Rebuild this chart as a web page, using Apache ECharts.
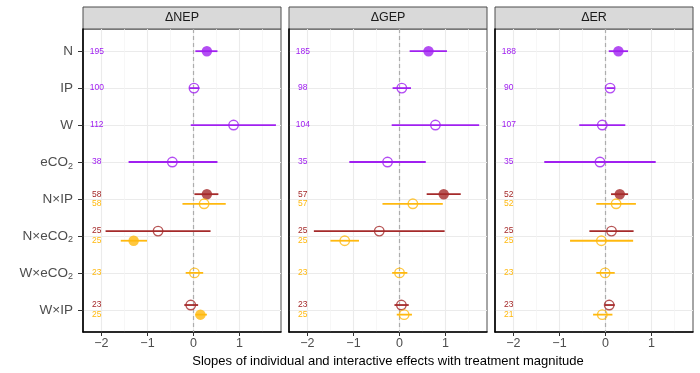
<!DOCTYPE html>
<html><head><meta charset="utf-8">
<script src="https://cdn.jsdelivr.net/npm/echarts@6/dist/echarts.min.js"></script>
<style>html,body{margin:0;padding:0;background:#fff}#c{width:700px;height:373px}</style>
</head><body><div id="c"></div>
<script>
const categories = ['N','IP','W','eCO2','N×IP','N×eCO2','W×eCO2','W×IP'];
const panelTitles = ['ΔNEP','ΔGEP','ΔER'];
const xTicks = [-2,-1,0,1];
const xMinorTicks = [-1.5,-0.5,0.5,1.5];
const xTitle = 'Slopes of individual and interactive effects with treatment magnitude';
const purpleCats = ['N','IP','W','eCO2'];
const redCats = ['N×IP','N×eCO2','W×IP'];
const orangeCats = ['N×IP','N×eCO2','W×eCO2','W×IP'];

// ΔNEP
const nepPurpleMean = [0.29,0.01,0.87,-0.46];
const nepPurpleLo = [0.04,-0.09,-0.06,-1.41];
const nepPurpleHi = [0.52,0.13,1.79,0.52];
const nepPurpleN = [195,100,112,38];
const nepPurpleFilled = [1,0,0,0];
const nepRedMean = [0.29,-0.77,-0.06];
const nepRedLo = [0.02,-1.91,-0.20];
const nepRedHi = [0.54,0.37,0.10];
const nepRedN = [58,25,23];
const nepRedFilled = [1,0,0];
const nepOrangeMean = [0.23,-1.30,0.02,0.15];
const nepOrangeLo = [-0.24,-1.58,-0.17,0.04];
const nepOrangeHi = [0.70,-1.01,0.21,0.29];
const nepOrangeN = [58,25,23,25];
const nepOrangeFilled = [0,1,0,1];
// ΔGEP
const gepPurpleMean = [0.63,0.05,0.78,-0.26];
const gepPurpleLo = [0.22,-0.15,-0.17,-1.09];
const gepPurpleHi = [1.03,0.25,1.73,0.57];
const gepPurpleN = [185,98,104,35];
const gepPurpleFilled = [1,0,0,0];
const gepRedMean = [0.96,-0.44,0.04];
const gepRedLo = [0.59,-1.86,-0.11];
const gepRedHi = [1.33,0.98,0.20];
const gepRedN = [57,25,23];
const gepRedFilled = [1,0,0];
const gepOrangeMean = [0.29,-1.19,0.00,0.10];
const gepOrangeLo = [-0.37,-1.50,-0.16,-0.06];
const gepOrangeHi = [0.94,-0.88,0.17,0.27];
const gepOrangeN = [57,25,23,25];
const gepOrangeFilled = [0,0,0,0];
// ΔER
const erPurpleMean = [0.28,0.10,-0.07,-0.12];
const erPurpleLo = [0.07,0.02,-0.57,-1.33];
const erPurpleHi = [0.49,0.20,0.43,1.09];
const erPurpleN = [188,90,107,35];
const erPurpleFilled = [1,0,0,0];
const erRedMean = [0.31,0.13,0.08];
const erRedLo = [0.12,-0.35,-0.02];
const erRedHi = [0.49,0.61,0.20];
const erRedN = [52,25,23];
const erRedFilled = [1,0,0];
const erOrangeMean = [0.23,-0.09,-0.01,-0.07];
const erOrangeLo = [-0.20,-0.77,-0.20,-0.27];
const erOrangeHi = [0.66,0.60,0.20,0.15];
const erOrangeN = [52,25,23,21];
const erOrangeFilled = [0,0,0,0];

const COLORS = {purple:'#A020F0', red:'#A52A2A', orange:'#FFB90F'};
const FONT = '"Liberation Sans", Arial, sans-serif';
const X_MIN = -2.4, X_MAX = 1.9, Y_MIN = -0.6, Y_MAX = categories.length - 0.4;
const LABEL_X = -2.1, PAIR_OFF = 0.13;
const GRID_LEFTS = [83, 289, 495], GW = 198, GT = 29, GH = 303;

const panels = [
  {purple:[purpleCats,nepPurpleMean,nepPurpleLo,nepPurpleHi,nepPurpleN,nepPurpleFilled],
   red:[redCats,nepRedMean,nepRedLo,nepRedHi,nepRedN,nepRedFilled],
   orange:[orangeCats,nepOrangeMean,nepOrangeLo,nepOrangeHi,nepOrangeN,nepOrangeFilled]},
  {purple:[purpleCats,gepPurpleMean,gepPurpleLo,gepPurpleHi,gepPurpleN,gepPurpleFilled],
   red:[redCats,gepRedMean,gepRedLo,gepRedHi,gepRedN,gepRedFilled],
   orange:[orangeCats,gepOrangeMean,gepOrangeLo,gepOrangeHi,gepOrangeN,gepOrangeFilled]},
  {purple:[purpleCats,erPurpleMean,erPurpleLo,erPurpleHi,erPurpleN,erPurpleFilled],
   red:[redCats,erRedMean,erRedLo,erRedHi,erRedN,erRedFilled],
   orange:[orangeCats,erOrangeMean,erOrangeLo,erOrangeHi,erOrangeN,erOrangeFilled]}
];

function yPos(group, cat) {
  const i = categories.indexOf(cat);
  if (group === 'red') return i - PAIR_OFF;
  if (group === 'orange') return i + (redCats.includes(cat) ? PAIR_OFF : 0);
  return i;
}
const fmtX = v => (v < 0 ? '\u2212' + Math.abs(v) : String(v));
const fmtCat = v => {
  const c = categories[v];
  if (c == null) return '';
  return c.includes('CO2') ? '{n|' + c.replace('CO2', 'CO') + '}{s|2}' : '{n|' + c + '}';
};

const grid = [], xAxis = [], yAxis = [], series = [], graphic = [];
const yTicks = categories.map((c, i) => i);

GRID_LEFTS.forEach((left, p) => {
  grid.push({left: left, top: GT, width: GW, height: GH, show: true, containLabel:false,
    outerBoundsMode:'none',
    borderColor: '#4d4d4d', borderWidth: 1, backgroundColor: '#fff'});
  xAxis.push({type:'value', gridIndex:p, min:X_MIN, max:X_MAX,
    axisLine:{show:true, onZero:false, lineStyle:{color:'#000', width:1.6}},
    axisTick:{show:true, customValues:xTicks, length:4, lineStyle:{color:'#333', width:1}},
    axisLabel:{show:true, customValues:xTicks, formatter:fmtX, color:'#4d4d4d', fontSize:12.5, fontFamily:FONT, margin:5},
    splitLine:{show:true, lineStyle:{color:'#ebebeb', width:1.1}},
    name: p === 1 ? xTitle : '', nameLocation:'middle', nameGap:21,
    nameTextStyle:{color:'#000', fontSize:13, fontFamily:FONT}
  });
  xAxis.push({type:'value', gridIndex:p, min:X_MIN, max:X_MAX, position:'bottom',
    axisLine:{show:false}, axisTick:{show:false, customValues:xMinorTicks},
    axisLabel:{show:false, customValues:xMinorTicks},
    splitLine:{show:true, lineStyle:{color:'#f3f3f3', width:0.7}}
  });
  yAxis.push({type:'value', gridIndex:p, min:Y_MIN, max:Y_MAX, inverse:true,
    axisLine:{show:true, onZero:false, lineStyle:{color:'#000', width:1.6}},
    axisTick:{show:p === 0, customValues:yTicks, length:5, lineStyle:{color:'#333', width:1}},
    axisLabel:{show:p === 0, customValues:yTicks, formatter:fmtCat, margin:10,
      rich:{n:{fontSize:13.5, color:'#4d4d4d', fontFamily:FONT},
            s:{fontSize:9, color:'#4d4d4d', fontFamily:FONT, padding:[8,0,0,0]}}},
    splitLine:{show:true, lineStyle:{color:'#ebebeb', width:1.1}}
  });
  graphic.push({type:'rect', shape:{x:left, y:7, width:GW, height:22},
    style:{fill:'#d9d9d9', stroke:'#4d4d4d', lineWidth:1}});
  graphic.push({type:'text', x:left + GW/2, y:18,
    style:{text:panelTitles[p], align:'center', verticalAlign:'middle', font:'12.5px ' + FONT, fill:'#1a1a1a'}});

  // zero reference line
  series.push({type:'line', xAxisIndex:2*p, yAxisIndex:p, silent:true, symbol:'none', z:1,
    data:[[0, Y_MIN], [0, Y_MAX]],
    lineStyle:{color:'#adadad', width:1.2, type:[4,3]}});

  ['purple','red','orange'].forEach(g => {
    const [cats, mean, lo, hi, n, filled] = panels[p][g];
    const color = COLORS[g];
    const bars = cats.map((c, i) => [lo[i], hi[i], yPos(g, c)]);
    series.push({type:'custom', xAxisIndex:2*p, yAxisIndex:p, silent:true, z:2,
      data:bars, encode:{x:[0,1], y:2},
      renderItem:(params, api) => {
        const a = api.coord([api.value(0), api.value(2)]);
        const b = api.coord([api.value(1), api.value(2)]);
        return {type:'line', shape:{x1:a[0], y1:a[1], x2:b[0], y2:b[1]},
          style:{stroke:color, lineWidth:1.8}};
      }});
    series.push({type:'scatter', xAxisIndex:2*p, yAxisIndex:p, silent:true, z:3,
      data:cats.map((c, i) => ({
        value:[mean[i], yPos(g, c)],
        symbolSize: filled[i] ? 10.5 : 9.5,
        itemStyle: filled[i] ? {color:color, borderWidth:0}
                             : {color:'rgba(0,0,0,0)', borderColor:color, borderWidth:1.4}
      }))});
    series.push({type:'custom', xAxisIndex:2*p, yAxisIndex:p, silent:true, z:3,
      data:cats.map((c, i) => [LABEL_X, yPos(g, c), n[i]]), encode:{x:0, y:1},
      renderItem:(params, api) => {
        const pt = api.coord([api.value(0), api.value(1)]);
        return {type:'text', x:pt[0], y:pt[1],
          style:{text:String(api.value(2)), fill:color, align:'center', verticalAlign:'middle',
            font:'8.5px ' + FONT}};
      }});
  });
});

const chart = echarts.init(document.getElementById('c'), null, {renderer:'canvas'});
chart.setOption({animation:false, backgroundColor:'#fff', grid, xAxis, yAxis, series, graphic});
</script></body></html>
